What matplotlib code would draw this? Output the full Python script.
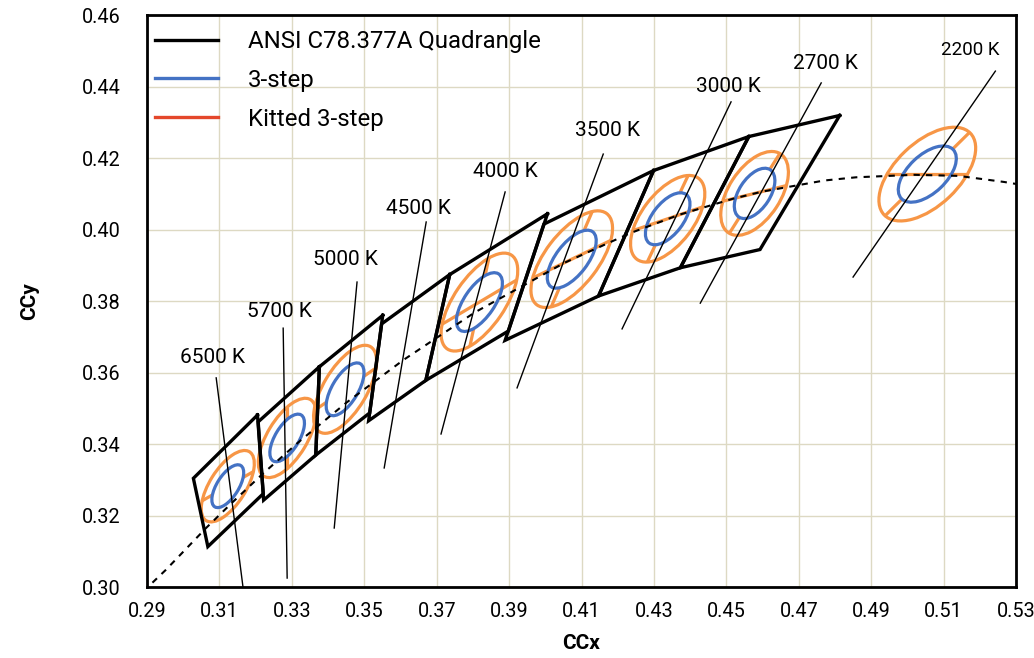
import numpy as np
import matplotlib
matplotlib.use("Agg")
import matplotlib.pyplot as plt
from matplotlib.patches import Ellipse
from matplotlib.lines import Line2D

plt.rcParams['font.family'] = ['Roboto', 'DejaVu Sans']

# ---------- data ----------
# ANSI C78.377A quadrangles (corner x / y, closed in order)
quad_names = ['2700 K', '3000 K', '3500 K', '4000 K', '4500 K', '5000 K', '5700 K', '6500 K']
quad_x = [
    [0.4813, 0.4562, 0.4373, 0.4593],
    [0.4562, 0.4299, 0.4147, 0.4373],
    [0.4299, 0.3996, 0.3889, 0.4147],
    [0.4006, 0.3736, 0.3670, 0.3898],
    [0.3736, 0.3548, 0.3512, 0.3670],
    [0.3551, 0.3376, 0.3366, 0.3515],
    [0.3376, 0.3207, 0.3222, 0.3366],
    [0.3205, 0.3028, 0.3068, 0.3221],
]
quad_y = [
    [0.4319, 0.4260, 0.3893, 0.3944],
    [0.4260, 0.4165, 0.3814, 0.3893],
    [0.4165, 0.4015, 0.3690, 0.3814],
    [0.4044, 0.3874, 0.3578, 0.3716],
    [0.3874, 0.3736, 0.3465, 0.3578],
    [0.3760, 0.3616, 0.3369, 0.3487],
    [0.3616, 0.3462, 0.3243, 0.3369],
    [0.3481, 0.3304, 0.3113, 0.3261],
]

# blackbody locus (dashed)
locus_x = [0.2890, 0.2952, 0.3064, 0.3135, 0.3221, 0.3324, 0.3451, 0.3608, 0.3805, 0.4053,
           0.4235, 0.4369, 0.4518, 0.4599, 0.4770, 0.4858, 0.5018, 0.5141, 0.5267, 0.5410]
locus_y = [0.2988, 0.3048, 0.3166, 0.3236, 0.3318, 0.3410, 0.3516, 0.3635, 0.3768, 0.3907,
           0.3990, 0.4041, 0.4086, 0.4106, 0.4137, 0.4146, 0.4153, 0.4150, 0.4133, 0.4109]

# 3-step ellipses: centre, semi axes, rotation (deg)
ell_cct = ['6500 K', '5700 K', '5000 K', '4000 K', '3500 K', '3000 K', '2700 K', '2200 K']
ell_cx = [0.3123, 0.3287, 0.3447, 0.3818, 0.4073, 0.4338, 0.4578, 0.5055]
ell_cy = [0.3282, 0.3417, 0.3553, 0.3797, 0.3917, 0.4030, 0.4101, 0.4155]
ell_a = [0.0068, 0.0075, 0.0083, 0.0095, 0.0096, 0.0085, 0.0079, 0.0099]
ell_b = [0.0030, 0.0033, 0.0036, 0.0042, 0.0044, 0.0043, 0.0043, 0.0053]
ell_theta = [58.2, 59.1, 59.6, 56.0, 53.0, 53.1, 57.2, 44.0]
kit_scale = 5 / 3
# kitted split lines: radial spokes and chord along the locus
spoke_angle = [30, 90, 35, 78, 67, 65, 58, 45]
chord_angle = [None, None, None, 31, 26, 19, 14, 0]

# CCT labels and pointer lines
lab_text = ['6500 K', '5700 K', '5000 K', '4500 K', '4000 K', '3500 K', '3000 K', '2700 K', '2200 K']
lab_x = [0.3080, 0.3267, 0.3447, 0.3649, 0.3889, 0.4173, 0.4505, 0.4773, 0.5173]
lab_y = [0.3643, 0.3772, 0.3915, 0.4060, 0.4161, 0.4276, 0.4401, 0.4463, 0.4502]
ptr_x0 = [0.3091, 0.3276, 0.3480, 0.3671, 0.3889, 0.4160, 0.4513, 0.4762, 0.5243]
ptr_y0 = [0.3585, 0.3724, 0.3853, 0.4021, 0.4105, 0.4211, 0.4357, 0.4410, 0.4443]
ptr_x1 = [0.3165, 0.3287, 0.3417, 0.3555, 0.3712, 0.3922, 0.4212, 0.4428, 0.4850]
ptr_y1 = [0.3000, 0.3025, 0.3165, 0.3333, 0.3428, 0.3557, 0.3722, 0.3794, 0.3867]

BLUE = '#4472c4'
ORANGE = '#f79646'
LEG_RED = '#e4472b'
GRID = '#ddd9c3'


def ell_r(a, b, theta, ang):
    d = np.radians(ang - theta)
    return 1.0 / np.sqrt((np.cos(d) / a) ** 2 + (np.sin(d) / b) ** 2)


fig = plt.figure(figsize=(10.34, 6.58), dpi=100)
ax = fig.add_axes([0.1422, 0.1079, 0.8404, 0.8693])

# ellipses
for i in range(len(ell_cct)):
    cx, cy, a, b, th = ell_cx[i], ell_cy[i], ell_a[i], ell_b[i], ell_theta[i]
    A, B = a * kit_scale, b * kit_scale
    ax.add_patch(Ellipse((cx, cy), 2 * A, 2 * B, angle=th, fill=False,
                         ec=ORANGE, lw=2.3, zorder=3))
    ax.add_patch(Ellipse((cx, cy), 2 * a, 2 * b, angle=th, fill=False,
                         ec=BLUE, lw=2.3, zorder=4))
    for ang in (spoke_angle[i], spoke_angle[i] + 180):
        r0, r1 = ell_r(a, b, th, ang), ell_r(A, B, th, ang)
        u = np.array([np.cos(np.radians(ang)), np.sin(np.radians(ang))])
        ax.plot([cx + r0 * u[0], cx + r1 * u[0]], [cy + r0 * u[1], cy + r1 * u[1]],
                color=ORANGE, lw=2.3, zorder=3, solid_capstyle='butt')
    if chord_angle[i] is not None:
        ang = chord_angle[i]
        r1 = ell_r(A, B, th, ang)
        u = np.array([np.cos(np.radians(ang)), np.sin(np.radians(ang))])
        ax.plot([cx - r1 * u[0], cx + r1 * u[0]], [cy - r1 * u[1], cy + r1 * u[1]],
                color=ORANGE, lw=2.3, zorder=3, solid_capstyle='butt')

# quadrangles
for qx, qy in zip(quad_x, quad_y):
    ax.plot(qx + qx[:1], qy + qy[:1], color='black', lw=2.4, zorder=5,
            solid_joinstyle='miter')

# locus
ax.plot(locus_x, locus_y, color='black', lw=1.5, ls=(0, (3, 3)), zorder=6)

# labels + pointer lines
for i, t in enumerate(lab_text):
    ax.plot([ptr_x0[i], ptr_x1[i]], [ptr_y0[i], ptr_y1[i]], color='black', lw=1.0, zorder=7)
    fs = 13.5 if t == '2200 K' else 15
    ax.text(lab_x[i], lab_y[i], t, fontsize=fs, ha='center', va='center', zorder=8)

ax.set_xlim(0.29, 0.53)
ax.set_ylim(0.30, 0.46)
ax.set_xticks(np.round(np.arange(0.29, 0.5301, 0.02), 2))
ax.set_yticks(np.round(np.arange(0.30, 0.4601, 0.02), 2))
ax.xaxis.set_major_formatter(plt.FormatStrFormatter('%.2f'))
ax.yaxis.set_major_formatter(plt.FormatStrFormatter('%.2f'))
ax.tick_params(length=0, labelsize=14.3)
ax.tick_params(axis='x', pad=11)
ax.tick_params(axis='y', pad=19)
ax.grid(True, color=GRID, lw=1.0, zorder=0)
ax.set_axisbelow(True)
for s in ax.spines.values():
    s.set_linewidth(2.0)
    s.set_color('black')

ax.set_xlabel('CCx', fontsize=15, fontweight='bold', labelpad=9)
ax.set_ylabel('CCy', fontsize=15, fontweight='bold', labelpad=31)

handles = [Line2D([], [], color='black', lw=2.4),
           Line2D([], [], color=BLUE, lw=2.4),
           Line2D([], [], color=LEG_RED, lw=2.4)]
labels = ['ANSI C78.377A Quadrangle', '3-step', 'Kitted 3-step']
ax.legend(handles, labels, loc='upper left', bbox_to_anchor=(0.0, 0.988),
          frameon=False, fontsize=17.3, handlelength=2.6, handletextpad=1.25,
          labelspacing=0.65, borderaxespad=0.0, borderpad=0.35)

fig.savefig('out.png', dpi=100)
